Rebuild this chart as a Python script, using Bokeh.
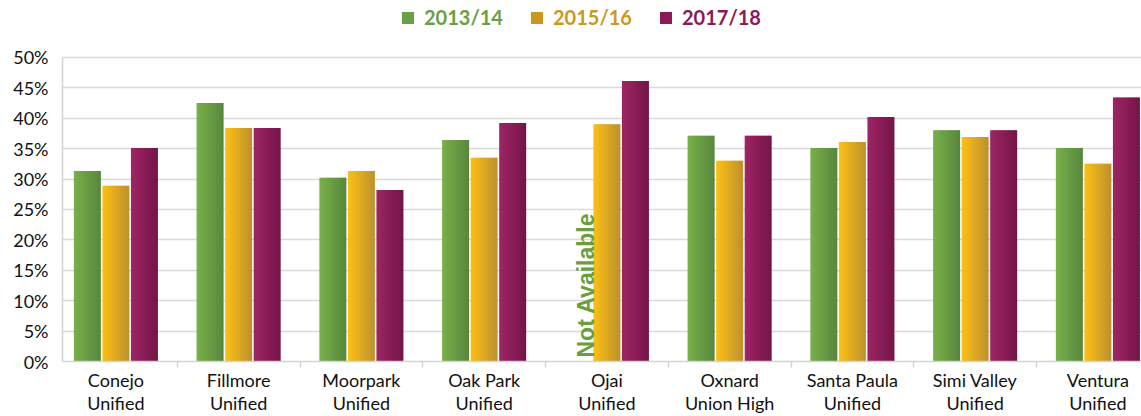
import numpy as np
from bokeh.plotting import figure
from bokeh.models import (Range1d, FixedTicker, PrintfTickFormatter, Legend, LegendItem,
                          ColumnDataSource)
from bokeh.core.properties import value
from bokeh.embed import file_html
from bokeh.resources import INLINE

# ---- data ----
districts = ["Conejo\nUnified", "Fillmore\nUnified", "Moorpark\nUnified", "Oak Park\nUnified",
             "Ojai\nUnified", "Oxnard\nUnion High", "Santa Paula\nUnified",
             "Simi Valley\nUnified", "Ventura\nUnified"]
years = ["2013/14", "2015/16", "2017/18"]
v_2013 = [31.3, 42.5, 30.2, 36.4, None, 37.1, 35.1, 38.0, 35.1]
v_2015 = [28.9, 38.4, 31.3, 33.5, 39.0, 33.0, 36.1, 36.9, 32.5]
v_2017 = [35.1, 38.4, 28.2, 39.2, 46.1, 37.1, 40.2, 38.0, 43.4]
y_ticks = [0, 5, 10, 15, 20, 25, 30, 35, 40, 45, 50]
na_label = "Not Available"

series = [v_2013, v_2015, v_2017]
grad = [("#78B048", "#58873D"), ("#FDC015", "#BC912E"), ("#9E2566", "#741547")]
legend_colors = ["#68A043", "#CA971F", "#8B1B56"]

def hex2rgb(h):
    h = h.lstrip("#")
    return np.array([int(h[i:i + 2], 16) for i in (0, 2, 4)], dtype=float)

def mix(a, b, t):
    c = hex2rgb(a) * (1 - t) + hex2rgb(b) * t
    return "#%02x%02x%02x" % tuple(int(round(v)) for v in c)

n = len(districts)
centers = np.arange(n) + 0.5
x0 = 0.065
W, H = 1141, 416
bl, bb = 62, 54
frame_h = H - bb
px_per_pct = 6.1
p = figure(width=W, height=H, output_backend="svg", toolbar_location=None,
           x_range=Range1d(x0, x0 + (W - bl) / 122.75),
           y_range=Range1d(0, frame_h / px_per_pct),
           min_border_left=bl, min_border_right=0, min_border_top=0, min_border_bottom=bb)
p.outline_line_color = None
p.background_fill_color = "white"

pitch = 0.2325
bw = 0.22
nstrip = 14
sw = bw / nstrip
for si, vals in enumerate(series):
    top = np.array([np.nan if v is None else v for v in vals], dtype=float)
    off = (si - 1) * pitch
    left_edge = centers + off - bw / 2
    for k in range(nstrip):
        col = mix(grad[si][0], grad[si][1], (k + 0.5) / nstrip)
        l = left_edge + k * sw
        r = np.minimum(left_edge + (k + 1.6) * sw, left_edge + bw)
        p.quad(left=l, right=r, top=top, bottom=0, fill_color=col, line_color=None)

# Not available label on missing value
for i, v in enumerate(v_2013):
    if v is None:
        p.text(x=[centers[i] - 0.17], y=[0], text=[na_label], angle=np.pi / 2,
               text_align="left", text_baseline="middle", y_offset=-4,
               text_font=value("Liberation Sans"), text_font_style="bold",
               text_font_size="23px", text_color="#69A03E")

# axes
p.xaxis.ticker = FixedTicker(ticks=list(centers), minor_ticks=list(np.arange(n + 1)))
p.xaxis.major_label_overrides = {float(c): d for c, d in zip(centers, districts)}
p.xaxis.major_tick_line_color = None
p.xaxis.major_tick_out = 0
p.xaxis.minor_tick_out = 6
p.xaxis.minor_tick_in = 0
p.xaxis.minor_tick_line_color = "#d4d4d4"
p.xaxis.minor_tick_line_width = 1.5
p.xaxis.axis_line_color = "#d4d4d4"
p.xaxis.axis_line_width = 1.5
p.xaxis.major_label_text_font = "Lato"
p.xaxis.major_label_text_font_size = "18px"
p.xaxis.major_label_text_color = "#111111"
p.xaxis.major_label_text_line_height = 1.065
p.xaxis.major_label_standoff = 1

p.yaxis.ticker = FixedTicker(ticks=y_ticks)
p.yaxis.bounds = (y_ticks[0], y_ticks[-1])
p.yaxis.formatter = PrintfTickFormatter(format="%d%%")
p.yaxis.major_tick_line_color = None
p.yaxis.minor_tick_line_color = None
p.yaxis.major_tick_out = 0
p.yaxis.axis_line_color = "#d4d4d4"
p.yaxis.axis_line_width = 1.5
p.yaxis.major_label_text_font = "Lato"
p.yaxis.major_label_text_font_size = "18px"
p.yaxis.major_label_text_color = "#111111"
p.yaxis.major_label_standoff = 14

p.xgrid.grid_line_color = None
p.ygrid.grid_line_color = "#d9d9d9"
p.ygrid.grid_line_width = 1.5

# legends (one per series, each with own text colour); zero-height swatch renderers
legend_x = [338, 467, 596]
for si, yr in enumerate(years):
    src = ColumnDataSource(data=dict(x=[centers[0]], top=[0]))
    r = p.vbar(x="x", top="top", bottom=0, width=0.01, source=src,
               fill_color=legend_colors[si], line_color=None)
    lg = Legend(items=[LegendItem(label=yr, renderers=[r])],
                location=(legend_x[si], frame_h - 30), orientation="horizontal",
                label_text_font="Lato", label_text_font_style="bold",
                label_text_font_size="20px", label_text_color=legend_colors[si],
                glyph_width=15, glyph_height=15, label_standoff=9,
                border_line_color=None, background_fill_alpha=0,
                padding=0, margin=0)
    p.add_layout(lg, "center")

open("out.html", "w").write(file_html(p, INLINE))
